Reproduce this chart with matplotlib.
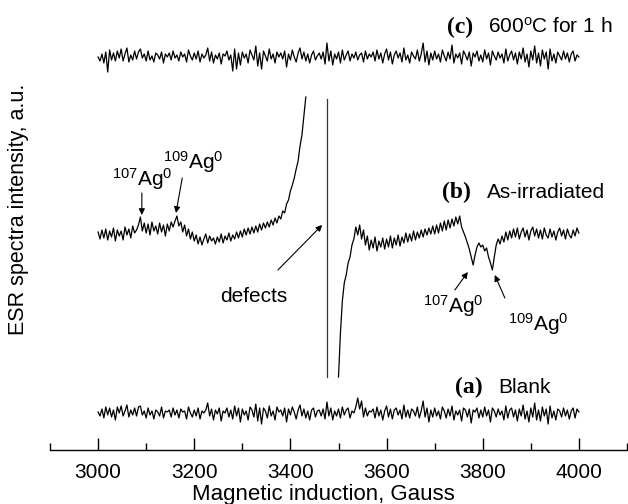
import numpy as np
import matplotlib
matplotlib.use('Agg')
import matplotlib.pyplot as plt
from matplotlib.ticker import MultipleLocator

plt.rcParams['font.family'] = ['Liberation Sans', 'DejaVu Sans']
plt.rcParams['mathtext.fontset'] = 'custom'
plt.rcParams['mathtext.rm'] = 'Liberation Sans'

# field axis (Gauss), 4 G step
field = np.arange(3000, 4001, 4)
field_b_left = np.arange(3000, 3433, 4)
field_b_right = np.arange(3500, 4001, 4)
field_b_jump = [3477, 3477]

# (c) 600C for 1 h - noise around baseline (a.u.)
spec_c = [0, -4, 3, -6, 5, -15, 7, -3, 4, -4, 6, -1, 8, -4, 3, 9, -5, 2, -3, 6, -2, 5, 8, -1, 3,
          -4, 6, -3, 1, -5, 4, 2, -2, 5, -6, 3, 0, 4, -3, 6, -1, 2, -4, 5, 0, 3, -5, 7, 1, -3,
          4, -2, 6, -5, 3, -1, 2, 9, -4, 5, -6, 2, -2, 4, -7, 3, 1, 6, -3, 2, -14, 8, -12, 4, -8,
          5, -1, 3, -6, 7, 2, -3, 11, -9, 4, -12, 6, 1, -4, 8, -2, 3, -6, 5, 0, 4, -2, 6, -10, 3,
          -3, 7, 0, -5, 4, 9, -2, 5, -4, 3, -6, 2, 6, -3, 1, 4, -2, 5, -7, 14, -4, 6, -8, 3, -2,
          5, -6, 7, -3, 2, 6, -4, 3, -1, 5, -3, 2, 4, -5, 6, -2, 3, 0, 5, -4, 7, -2, 4, -6, 3,
          8, -3, 5, -7, 2, 6, -1, 4, -5, 9, -3, 2, -6, 5, 1, -2, 7, -4, 3, 14, -5, 6, -8, 4, -3,
          6, -2, 3, -5, 7, 1, -4, 5, -2, 12, -6, 3, -1, 4, -7, 6, 2, -3, 5, -9, 4, 0, 6, -4, 2,
          -5, 7, -2, 4, -8, 6, 1, -3, 5, -1, 3, -6, 8, -4, 2, 6, -3, 4, -7, 5, -2, 9, -5, 3, -10,
          6, -3, 11, -6, 4, -9, 7, -2, 5, -12, 8, -4, 3, -6, 5, 1, -3, 6, -2, 4, -5, 3, 6, -4, 2,
          0]

# (a) Blank
spec_a = [1, -3, 4, -5, 6, -2, 5, -4, 3, -7, 6, 0, 7, -3, 2, 8, -4, 3, -2, 5, -3, 6, 7, -2, 2,
          -5, 5, -2, 2, -6, 3, 1, -3, 6, -5, 2, 1, 3, -4, 5, -2, 3, -5, 4, 1, 2, -6, 6, 0, -4,
          3, -3, 5, -6, 2, 0, 3, 10, -3, 4, -7, 3, -1, 5, -8, 2, 0, 5, -4, 3, -6, 7, -3, 5, -9,
          4, -2, 2, -7, 6, 3, -4, 9, -8, 5, -11, 5, 2, -5, 7, -3, 2, -7, 6, 1, 3, -3, 5, -9, 4,
          -2, 6, 1, -6, 3, 8, -3, 4, -5, 2, -7, 3, 5, -4, 2, 3, -3, 4, -6, 11, -3, 5, -7, 2, -3,
          4, -5, 6, -2, 3, 5, -5, 2, 0, 6, 15, 4, 12, -4, 5, -3, 2, 1, 4, -5, 6, -3, 3, -7, 2,
          7, -4, 4, -6, 3, 5, -2, 3, -6, 8, -4, 3, -5, 4, 2, -3, 6, -5, 2, 12, -4, 5, -9, 3, -4,
          5, -3, 2, -6, 6, 2, -5, 4, -3, 7, -7, 2, -2, 3, -8, 5, 3, -4, 4, -10, 3, 1, 5, -5, 3,
          -4, 6, -3, 3, -9, 5, 2, -4, 4, -2, 2, -7, 7, -5, 3, 5, -4, 3, -8, 4, -3, 8, -6, 2, -9,
          5, -4, 10, -7, 3, -8, 6, -3, 4, -11, 7, -5, 2, -7, 4, 2, -4, 5, -3, 3, -6, 2, 5, -5, 4,
          1]

# (b) As-irradiated, low-field branch
spec_b_left = [3, -4, 5, -3, 6, -5, 4, -2, 7, -6, 5, -1, 4, -5, 8, 0, 6, -3, 9, 2, 5, 10, 18, 4, 12,
               2, 11, 0, 13, 4, 9, 1, 12, 3, 10, -1, 11, 4, 13, 8, 14, 19, 9, 13, 3, 10, -1, 6, -4, 3,
               -6, 0, -9, -2, -10, -4, 1, -8, -1, -6, -3, -9, -2, -7, 1, -8, -1, -5, 2, -6, 0, -4, 3, -3, 4,
               -2, 6, 0, 7, 1, 8, 2, 9, 3, 11, 5, 12, 7, 13, 8, 15, 10, 17, 12, 19, 16, 24, 22, 31, 35,
               44, 50, 57, 66, 74, 89, 100, 119, 138]
# (b) high-field branch
spec_b_right = [-142, -98, -66, -48, -40, -28, -22, -10, -4, 8, 0, 10, -4, 5, -10, -1, -15, -5, -13, -2,
                -16, -6, -12, -3, -14,
                -4, -12, -1, -13, -3, -10, 0, -11, -2, -8, 2, -7, 1, -6, 4, -5, 3, -3, 5, -2, 6, 0, 7, 1, 9,
                1, 10, 2, 12, 4, 14, 5, 15, 7, 16, 9, 18, 11, 19, 8, 3, -2, -8, -14, -22, -30, -20, -12, -8, -12,
                -10, -16, -13, -22, -28, -35, -22, -10, -4, -9, -1, -7, 3, -5, 4, -3, 6, -2, 7, -4,
                3, 7, -2, 5, -5, 4, 8, -1, 6, -3, 5, -4, 7, 0, -3, 6, -2, 4, -5, 3,
                7, -1, 5, -4, 6, 0, -3, 5, -1, 7, 2]
spec_b_jump = [136, -142]

off_c, off_b, off_a = 393, 215, 37

fig = plt.figure(figsize=(6.28, 5.04), dpi=100)
ax = fig.add_axes([50/628, 54/504, 577/628, 450/504])

lw = 0.9
ax.plot(field, np.array(spec_c) + off_c, color='black', lw=lw)
ax.plot(field, np.array(spec_a) + off_a, color='black', lw=lw)
ax.plot(field_b_left, np.array(spec_b_left) + off_b, color='black', lw=lw)
ax.plot(field_b_right, np.array(spec_b_right) + off_b, color='black', lw=lw)
ax.plot(field_b_jump, np.array(spec_b_jump) + off_b, color='#333333', lw=0.9)

ax.set_xlim(2900, 4100)
ax.set_ylim(0, 450)
for s in ['left', 'right', 'top']:
    ax.spines[s].set_visible(False)
ax.spines['bottom'].set_linewidth(1.0)
ax.set_yticks([])
ax.xaxis.set_minor_locator(MultipleLocator(100))
ax.set_xticks([3000, 3200, 3400, 3600, 3800, 4000])
ax.tick_params(axis='x', which='major', direction='in', length=8.5, width=1.0, labelsize=15, pad=9)
ax.tick_params(axis='x', which='minor', direction='in', length=5, width=1.0)
ax.set_facecolor('none')

fig.text(323/628, 0.018, 'Magnetic induction, Gauss', ha='center', va='center', fontsize=16)
fig.text(19/628, 0.585, 'ESR spectra intensity, a.u.', ha='center', va='center', rotation=90, fontsize=15.5)

serif = dict(family=['Liberation Serif', 'DejaVu Serif'], fontweight='bold', fontsize=17)
ax.text(3725, 417, '(c)', ha='left', va='baseline', **serif)
ax.text(3811, 417, r'600$\mathregular{^{o}}$C for 1 h', ha='left', va='baseline', fontsize=15)
ax.text(3715, 252, '(b)', ha='left', va='baseline', **serif)
ax.text(3809, 252, 'As-irradiated', ha='left', va='baseline', fontsize=15)
ax.text(3742, 57, '(a)', ha='left', va='baseline', **serif)
ax.text(3832, 57, 'Blank', ha='left', va='baseline', fontsize=15)

arrow = dict(arrowstyle='-|>', color='black', lw=0.8, mutation_scale=9, shrinkA=0, shrinkB=0)
ax.text(3029, 264, r'$\mathregular{^{107}Ag^{0}}$', ha='left', va='baseline', fontsize=15)
ax.annotate('', xy=(3091, 235), xytext=(3091, 257), arrowprops=arrow)
ax.text(3135, 281, r'$\mathregular{^{109}Ag^{0}}$', ha='left', va='baseline', fontsize=15)
ax.annotate('', xy=(3162, 237), xytext=(3175, 272), arrowprops=arrow)
ax.text(3324, 154, 'defects', ha='center', va='center', fontsize=15)
ax.annotate('', xy=(3466, 225), xytext=(3374, 180), arrowprops=arrow)
ax.text(3676, 137, r'$\mathregular{^{107}Ag^{0}}$', ha='left', va='baseline', fontsize=15)
ax.annotate('', xy=(3769, 178), xytext=(3742, 160), arrowprops=arrow)
ax.text(3852, 119, r'$\mathregular{^{109}Ag^{0}}$', ha='left', va='baseline', fontsize=15)
ax.annotate('', xy=(3825, 175), xytext=(3846, 152), arrowprops=arrow)

fig.savefig('out.png', dpi=100)
